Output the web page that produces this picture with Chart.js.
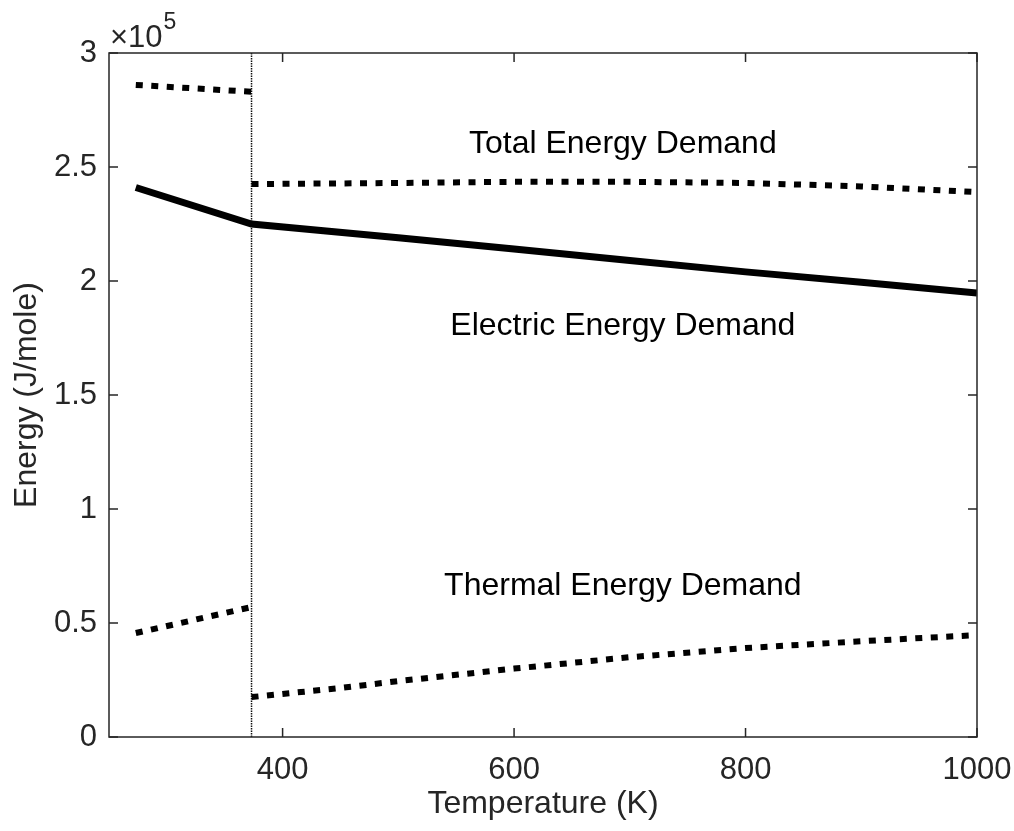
<!DOCTYPE html>
<html>
<head>
<meta charset="utf-8">
<script src="https://cdn.jsdelivr.net/npm/chart.js@4.4.1/dist/chart.umd.min.js"></script>
<style>
  html, body { margin: 0; padding: 0; background: #fff; }
  #wrap { width: 1014px; height: 831px; }
</style>
</head>
<body>
<div id="wrap"><canvas id="c" width="1014" height="831"></canvas></div>
<script>
// ---- Data (Energy in J/mole, Temperature in K) ----
const totalLiqT   = [273.15, 373.15];
const totalLiqE   = [286000, 283000];
const totalGasT   = [373.15, 500, 600, 700, 800, 900, 1000];
const totalGasE   = [242500, 243000, 243500, 243500, 243000, 241500, 239000];

const electricT   = [273.15, 373.15, 500, 600, 700, 800, 900, 1000];
const electricE   = [241000, 225000, 219000, 214000, 209000, 204000, 199500, 194700];

const thermalLiqT = [273.15, 373.15];
const thermalLiqE = [45600, 57000];
const thermalGasT = [373.15, 450, 500, 600, 700, 800, 900, 1000];
const thermalGasE = [17500, 21500, 24500, 30000, 35000, 39000, 42000, 44700];

const boilingT    = [373.15, 373.15];
const boilingE    = [0, 300000];

const xTickValues = [400, 600, 800, 1000];
const yTickValues = [0, 50000, 100000, 150000, 200000, 250000, 300000];

const annotationTexts = ['Total Energy Demand', 'Electric Energy Demand', 'Thermal Energy Demand'];
const annotationT     = [694, 694, 694];
const annotationE     = [260000, 180000, 66200];

// ---- Helpers ----
const pts = (xs, ys) => xs.map((x, i) => ({ x: x, y: ys[i] }));
const FONT = '"Liberation Sans", Arial, Helvetica, sans-serif';
const AXIS_COLOR = '#262626';

const dotted = { borderColor: '#000', borderWidth: 6, borderDash: [7, 8.5], pointRadius: 0, fill: false, tension: 0 };
const solid  = { borderColor: '#000', borderWidth: 7, pointRadius: 0, fill: false, tension: 0 };

const framePlugin = {
  id: 'frame',
  beforeDraw(chart) {
    const ctx = chart.ctx;
    ctx.save();
    ctx.fillStyle = '#fff';
    ctx.fillRect(0, 0, chart.width, chart.height);
    ctx.restore();
  },
  afterDraw(chart) {
    const { ctx, chartArea: a, scales: { x, y } } = chart;
    ctx.save();
    ctx.strokeStyle = AXIS_COLOR;
    ctx.lineWidth = 1.5;
    ctx.strokeRect(a.left, a.top, a.right - a.left, a.bottom - a.top);
    const tl = 9;
    ctx.beginPath();
    xTickValues.forEach(v => {
      const px = x.getPixelForValue(v);
      ctx.moveTo(px, a.bottom); ctx.lineTo(px, a.bottom - tl);
      ctx.moveTo(px, a.top);    ctx.lineTo(px, a.top + tl);
    });
    yTickValues.forEach(v => {
      const py = y.getPixelForValue(v);
      ctx.moveTo(a.left, py);  ctx.lineTo(a.left + tl, py);
      ctx.moveTo(a.right, py); ctx.lineTo(a.right - tl, py);
    });
    ctx.stroke();

    // exponent label
    ctx.fillStyle = AXIS_COLOR;
    ctx.textBaseline = 'alphabetic';
    ctx.textAlign = 'left';
    ctx.font = '31px ' + FONT;
    ctx.fillText('\u00D710', a.left + 1, a.top - 6);
    const w = ctx.measureText('\u00D710').width;
    ctx.font = '23px ' + FONT;
    ctx.fillText('5', a.left + 1 + w + 1, a.top - 24);

    // annotations
    ctx.fillStyle = '#000';
    ctx.font = '32px ' + FONT;
    ctx.textAlign = 'center';
    ctx.textBaseline = 'middle';
    annotationTexts.forEach((t, i) => {
      ctx.fillText(t, x.getPixelForValue(annotationT[i]), y.getPixelForValue(annotationE[i]));
    });
    ctx.restore();
  }
};

new Chart(document.getElementById('c'), {
  type: 'line',
  data: {
    datasets: [
      Object.assign({ label: 'Electric', data: pts(electricT, electricE) }, solid),
      Object.assign({ label: 'Total (liquid)', data: pts(totalLiqT, totalLiqE) }, dotted),
      Object.assign({ label: 'Total (steam)', data: pts(totalGasT, totalGasE) }, dotted),
      Object.assign({ label: 'Thermal (liquid)', data: pts(thermalLiqT, thermalLiqE) }, dotted),
      Object.assign({ label: 'Thermal (steam)', data: pts(thermalGasT, thermalGasE) }, dotted),
      { label: 'Boiling point', data: pts(boilingT, boilingE), borderColor: '#111', borderWidth: 1.5,
        borderDash: [1.5, 1], pointRadius: 0, fill: false }
    ]
  },
  options: {
    responsive: false,
    devicePixelRatio: 1,
    animation: false,
    events: [],
    layout: { padding: { top: 53, right: 37, left: 0, bottom: 0 } },
    plugins: { legend: { display: false }, tooltip: { enabled: false } },
    scales: {
      x: {
        type: 'linear',
        min: 250, max: 1000,
        afterBuildTicks: s => { s.ticks = xTickValues.map(v => ({ value: v })); },
        afterFit: s => { s.height = 94; s.paddingLeft = 0; s.paddingRight = 0; },
        grid: { display: false, drawTicks: false },
        border: { display: false },
        ticks: { padding: 15, color: AXIS_COLOR, font: { family: FONT, size: 31 }, maxRotation: 0,
                 callback: v => String(v) },
        title: { display: true, text: 'Temperature (K)', color: AXIS_COLOR,
                 font: { family: FONT, size: 32 }, padding: { top: 0, bottom: 8 } }
      },
      y: {
        type: 'linear',
        min: 0, max: 300000,
        afterBuildTicks: s => { s.ticks = yTickValues.map(v => ({ value: v })); },
        afterFit: s => { s.width = 109; s.paddingTop = 0; s.paddingBottom = 0; },
        grid: { display: false, drawTicks: false },
        border: { display: false },
        ticks: { padding: 12, color: AXIS_COLOR, font: { family: FONT, size: 31 },
                 callback: v => String(v / 100000) },
        title: { display: true, text: 'Energy (J/mole)', color: AXIS_COLOR,
                 font: { family: FONT, size: 32 }, padding: { top: 8, bottom: 0 } }
      }
    }
  },
  plugins: [framePlugin]
});
</script>
</body>
</html>
